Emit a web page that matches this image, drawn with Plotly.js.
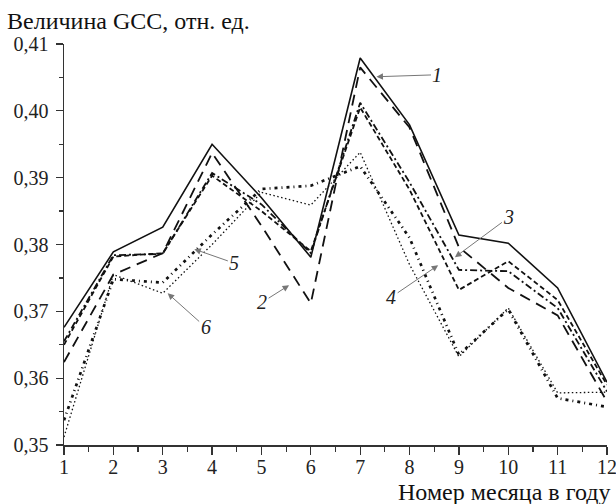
<!DOCTYPE html>
<html>
<head>
<meta charset="utf-8">
<script src="https://cdn.plot.ly/plotly-3.0.1.min.js"></script>
<style>
html,body{margin:0;padding:0;background:#fff;}
#chart{width:616px;height:504px;}
</style>
</head>
<body>
<div id="chart"></div>
<script>
const months = [1, 2, 3, 4, 5, 6, 7, 8, 9, 10, 11, 12];
const series1 = [0.3676, 0.3789, 0.3826, 0.3950, 0.3870, 0.3781, 0.4079, 0.3979, 0.3814, 0.3802, 0.3735, 0.3594];
const series2 = [0.3624, 0.3755, 0.3787, 0.3937, 0.3828, 0.3712, 0.4065, 0.3975, 0.3796, 0.3735, 0.3694, 0.3565];
const series3 = [0.3655, 0.3784, 0.3786, 0.3907, 0.3860, 0.3787, 0.4012, 0.3893, 0.3762, 0.3760, 0.3705, 0.3580];
const series4 = [0.3650, 0.3782, 0.3787, 0.3903, 0.3850, 0.3790, 0.4005, 0.3882, 0.3732, 0.3775, 0.3717, 0.3590];
const series5 = [0.3537, 0.3748, 0.3743, 0.3815, 0.3883, 0.3888, 0.3917, 0.3810, 0.3635, 0.3703, 0.3570, 0.3557];
const series6 = [0.3512, 0.3755, 0.3727, 0.3800, 0.3878, 0.3859, 0.3938, 0.3770, 0.3632, 0.3705, 0.3578, 0.3579];

const labelTexts = ['1', '2', '3', '4', '5', '6'];
const labelX = [7.33, 5.56, 8.92, 8.58, 3.64, 3.10];
const labelY = [0.4051, 0.3739, 0.3781, 0.3769, 0.3793, 0.3727];
const labelAx = [61, -27, 54, -47, 40, 38];
const labelAy = [-2, 17, -40, 32, 14, 34];

const yTitle = 'Величина GCC, отн. ед.';
const xTitle = 'Номер месяца в году';

const FONT = 'Liberation Serif';
const INK = '#111';

function tr(y, width, dash) {
  return {x: months, y: y, type: 'scatter', mode: 'lines',
          line: {color: INK, width: width, dash: dash}, hoverinfo: 'skip'};
}

const data = [
  tr(series6, 1.3, '1.5px,2.5px'),
  tr(series5, 2.7, '3px,4px,1px,4px'),
  tr(series4, 1.8, '5px,3px'),
  tr(series3, 1.8, '7px,3px,2px,3px'),
  tr(series2, 1.8, '11px,7px'),
  tr(series1, 1.6, 'solid')
];

const annotations = labelTexts.map((t, i) => ({
  x: labelX[i], y: labelY[i], xref: 'x', yref: 'y',
  text: '<i>' + t + '</i>', showarrow: true,
  ax: labelAx[i], ay: labelAy[i],
  arrowhead: 2, arrowsize: 1.3, arrowwidth: 1, arrowcolor: '#777',
  standoff: 0, startstandoff: 0,
  font: {family: FONT, size: 20, color: '#222'}
}));

annotations.push({
  xref: 'paper', yref: 'paper', x: -0.108, y: 1.02, xanchor: 'left', yanchor: 'bottom',
  text: yTitle, showarrow: false, font: {family: FONT, size: 24, color: '#111'}
});
annotations.push({
  xref: 'paper', yref: 'paper', x: 1.01, y: -0.08, xanchor: 'right', yanchor: 'top',
  text: xTitle, showarrow: false, font: {family: FONT, size: 24, color: '#111'}
});

const layout = {
  width: 616, height: 504,
  margin: {l: 64, r: 9, t: 44, b: 59},
  paper_bgcolor: '#fff', plot_bgcolor: '#fff',
  showlegend: false,
  separators: ',.',
  font: {family: FONT, color: '#222'},
  xaxis: {
    range: [1, 12], tickmode: 'array', tickvals: months, ticktext: months.map(String),
    showgrid: false, zeroline: false, showline: true, linecolor: '#333', linewidth: 1.5,
    ticks: 'outside', ticklen: 8, tickwidth: 1.3, tickcolor: '#333',
    ticklabeloverflow: 'allow', ticklabelstandoff: -5,
    tickfont: {family: FONT, size: 20, color: '#222'},
    minor: {ticks: 'outside', ticklen: 5, tickwidth: 1.2, tickcolor: '#333', dtick: 0.5, showgrid: false}
  },
  yaxis: {
    range: [0.35, 0.41], dtick: 0.01, tick0: 0.35, tickformat: '.2f',
    showgrid: false, zeroline: false, showline: true, linecolor: '#333', linewidth: 1.5,
    ticks: 'outside', ticklen: 7, tickwidth: 1.3, tickcolor: '#333',
    ticklabeloverflow: 'allow', ticklabelstandoff: 3,
    tickfont: {family: FONT, size: 20, color: '#222'},
    minor: {ticks: 'outside', ticklen: 4, tickwidth: 1.2, tickcolor: '#333', dtick: 0.005, showgrid: false}
  },
  annotations: annotations
};

Plotly.newPlot('chart', data, layout, {staticPlot: true, displayModeBar: false});
</script>
</body>
</html>
